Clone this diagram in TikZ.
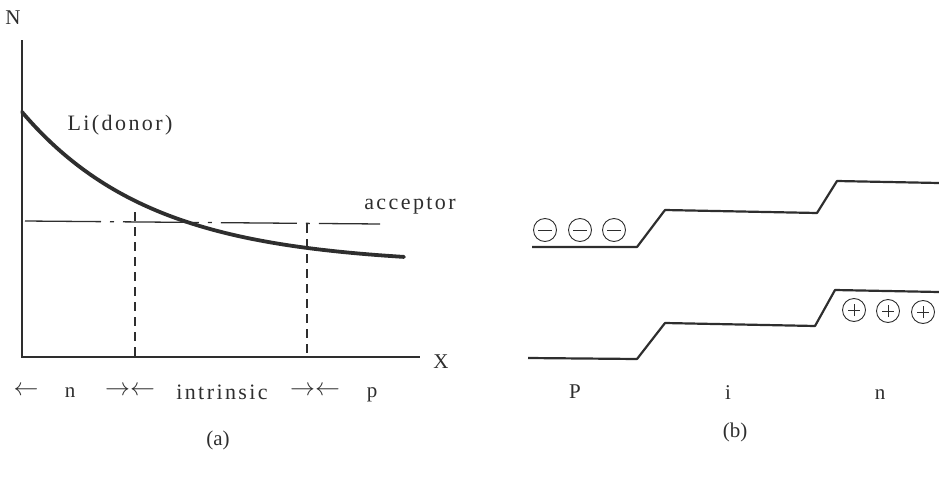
\documentclass[tikz,border=0pt]{standalone}
\usepackage{fontspec}
\setmainfont{Liberation Serif}
\newfontfamily\spacedf[LetterSpace=11]{Liberation Serif}
\begin{document}
\begin{tikzpicture}[x=1pt,y=-1pt,
  ink/.style={color=black!82},
  axisline/.style={ink,line width=1.8pt},
  bandline/.style={ink,line width=2.2pt,line join=round},
  lbl/.style={ink,inner sep=0pt,font=\fontsize{21}{23}\selectfont},
  mlbl/.style={ink,inner sep=0pt,font=\fontsize{22}{24}\spacedf},
  arr/.style={ink,inner sep=0pt,font=\fontsize{23}{25}\selectfont},
  chg/.style={ink,circle,draw,line width=0.9pt,minimum size=23pt,inner sep=0pt},
  minuscirc/.style={chg,path picture={\draw[line width=1pt] ([xshift=-7pt]path picture bounding box.center) -- ([xshift=7pt]path picture bounding box.center);}},
  pluscirc/.style={chg,path picture={\draw[line width=1pt] ([xshift=-6pt]path picture bounding box.center) -- ([xshift=6pt]path picture bounding box.center) ([yshift=-6pt]path picture bounding box.center) -- ([yshift=6pt]path picture bounding box.center);}}
]
\useasboundingbox (0,0) rectangle (939,479);
% ---------- (a) ----------
\coordinate (O) at (22,357);
\coordinate (ytop) at (22,40);
\coordinate (xend) at (420,357);
\draw[axisline] (ytop) -- (O) -- (xend);
\node[lbl] (N) at (13,18) {N};
\node[lbl] (X) at (441,362) {X};
% acceptor dash-dot line
\coordinate (accL) at (25,221);
\coordinate (accR) at (380,224);
\draw[ink,line width=1.3pt,dash pattern=on 76pt off 9pt on 4pt off 9pt] (accL) -- (accR);
\node[mlbl] (acc) at (410,206) {acceptor};
% donor curve
\draw[ink,line width=3.8pt,line cap=round] plot[domain=22:404,samples=80] (\x,{265-153*exp(-(\x-22)/130)});
\node[mlbl] (li) at (120,125) {Li(donor)};
% dashed verticals
\coordinate (d1t) at (135,212);
\coordinate (d1b) at (135,357);
\coordinate (d2t) at (307,224);
\coordinate (d2b) at (307,357);
\draw[ink,line width=1.4pt,dash pattern=on 9pt off 6pt] (d1t) -- (d1b);
\draw[ink,line width=1.4pt,dash pattern=on 9pt off 6pt] (d2t) -- (d2b);
% region labels
\node[arr] (a1) at (26,391) {$\leftarrow$};
\node[lbl] (rn) at (70,393) {n};
\node[arr] (a2) at (130,391) {${\rightarrow}{\leftarrow}$};
\node[mlbl] (ri) at (222,392) {intrinsic};
\node[arr] (a3) at (315,391) {${\rightarrow}{\leftarrow}$};
\node[lbl] (rp) at (372,395) {p};
\node[lbl] (capa) at (218,440) {(a)};
% ---------- (b) ----------
\coordinate (u1) at (532,247);
\coordinate (u2) at (637,247);
\coordinate (u3) at (665,210);
\coordinate (u4) at (817,213);
\coordinate (u5) at (837,181);
\coordinate (u6) at (939,183);
\draw[bandline] (u1) -- (u2) -- (u3) -- (u4) -- (u5) -- (u6);
\coordinate (l1) at (528,358);
\coordinate (l2) at (637,359);
\coordinate (l3) at (665,323);
\coordinate (l4) at (815,326);
\coordinate (l5) at (835,290);
\coordinate (l6) at (939,292);
\draw[bandline] (l1) -- (l2) -- (l3) -- (l4) -- (l5) -- (l6);
\node[minuscirc] (m1) at (545,230) {};
\node[minuscirc] (m2) at (580,230) {};
\node[minuscirc] (m3) at (614,230) {};
\node[pluscirc] (p1) at (854,310) {};
\node[pluscirc] (p2) at (888,311) {};
\node[pluscirc] (p3) at (923,312) {};
\node[lbl] (bP) at (575,392) {P};
\node[lbl] (bi) at (728,393) {i};
\node[lbl] (bn) at (880,395) {n};
\node[lbl] (capb) at (735,432) {(b)};
\end{tikzpicture}
\end{document}
